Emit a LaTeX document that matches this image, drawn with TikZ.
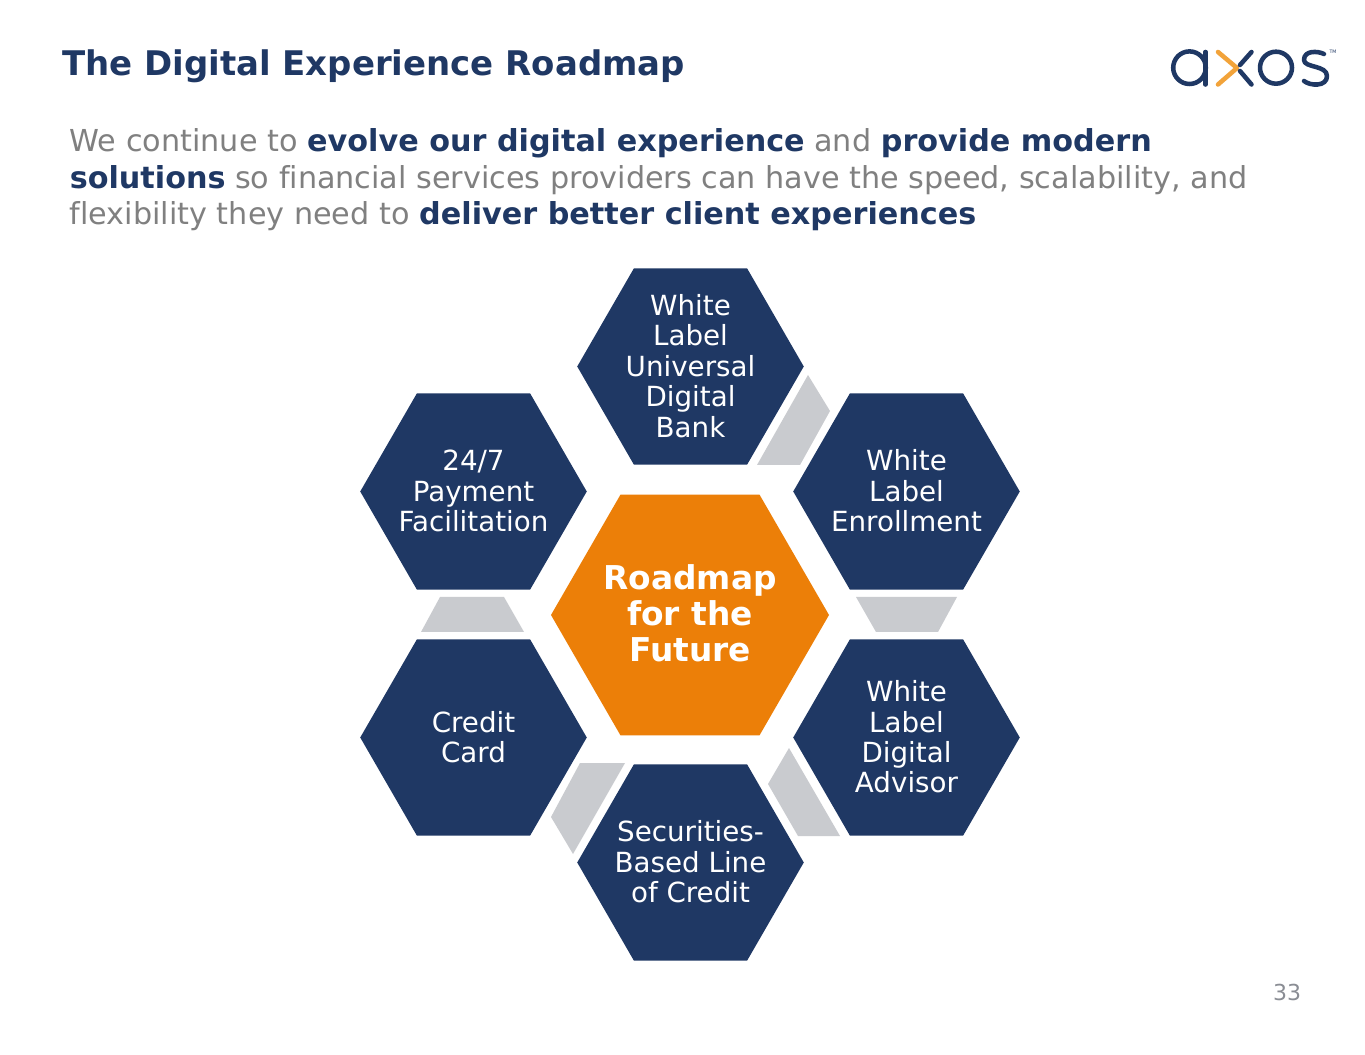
\documentclass[tikz,border=0pt]{standalone}
\usepackage{fontspec}
\setmainfont{DejaVu Sans}[Ligatures=NoCommon]
\usetikzlibrary{shapes.geometric}
\definecolor{navy}{HTML}{1F3864}
\definecolor{bodygrey}{HTML}{808080}
\definecolor{link}{HTML}{C9CBCF}
\definecolor{amber}{HTML}{EC7F08}
\definecolor{logoorange}{HTML}{F2A33A}
\definecolor{pagegrey}{HTML}{8A8D94}
\newcommand{\hl}[1]{\textbf{\textcolor{navy}{#1}}}
\tikzset{
  hexbase/.style={regular polygon,regular polygon sides=6,inner sep=0pt,outer sep=0pt,draw=none},
  hexnavy/.style={hexbase,fill=navy,minimum size=169.9pt},
  hexamber/.style={hexbase,fill=amber,minimum size=208.5pt},
  hextext/.style={text=white,align=center,yshift=0.4pt,font=\fontsize{20.8pt}{22.8pt}\selectfont},
  hexbold/.style={text=white,align=center,yshift=1pt,font=\fontsize{24.6pt}{27pt}\selectfont\bfseries},
  linkshape/.style={fill=link},
  logostroke/.style={line width=3.4pt,line cap=round,line join=round,color=navy}
}
\begin{document}
\begin{tikzpicture}[x=0.75pt,y=-0.75pt]
\useasboundingbox (0,0) rectangle (1365,1055);
\fill[white] (0,0) rectangle (1365,1055);
\node[anchor=base west,inner sep=0pt,text=navy,font=\fontsize{25.46pt}{30pt}\selectfont\bfseries] (title) at (62,76) {The Digital Experience Roadmap};
\node[anchor=west,inner sep=0pt,text=bodygrey,align=left,font=\fontsize{22.68pt}{27.4pt}\selectfont] (intro) at (69.5,180) {We continue to \hl{evolve our digital experience} and \hl{provide modern}\\\hl{solutions} so financial services providers can have the speed, scalability, and\\flexibility they need to \hl{deliver better client experiences}};
% links
\fill[linkshape] (808,375) -- (830,411) -- (800,465) -- (757,465) -- cycle;
\fill[linkshape] (856,597) -- (957,597) -- (938,632) -- (876,632) -- cycle;
\fill[linkshape] (440,597) -- (504,597) -- (524,632) -- (421,632) -- cycle;
\fill[linkshape] (580,763) -- (625,763) -- (573,854) -- (551,817) -- cycle;
\fill[linkshape] (789,748) -- (840,836) -- (798,836) -- (768,784) -- cycle;
% hexagons
\node[hexamber,label={[hexbold]center:Roadmap\\for the\\Future}] (centre) at (690,615) {};
\node[hexnavy,label={[hextext]center:White\\Label\\Universal\\Digital\\Bank}] (bank) at (690.5,366.5) {};
\node[hexnavy,label={[hextext]center:White\\Label\\Enrollment}] (enrol) at (906.5,491.5) {};
\node[hexnavy,label={[hextext]center:White\\Label\\Digital\\Advisor}] (advisor) at (906.5,737.5) {};
\node[hexnavy,label={[hextext]center:Securities-\\Based Line\\of Credit}] (sbloc) at (690.5,862.5) {};
\node[hexnavy,label={[hextext]center:Credit\\Card}] (card) at (473.5,737.5) {};
\node[hexnavy,label={[hextext]center:24/7\\Payment\\Facilitation}] (pay) at (473.5,491.5) {};
% logo
\draw[logostroke] (1189.5,67.7) circle (16.3);
\draw[logostroke] (1205.5,52) -- (1205.5,84.5);
\draw[logostroke,color=logoorange] (1218,52) -- (1237,68) -- (1218,84.5);
\draw[logostroke] (1251.5,52) -- (1240,65);
\draw[logostroke] (1240,71) -- (1251.5,84.5);
\draw[logostroke] (1276,67.7) circle (16);
\draw[logostroke] (1324,54) .. controls (1318,51) and (1304,50) .. (1304,60) .. controls (1304,68) and (1327,65) .. (1327,76) .. controls (1327,87) and (1310,86) .. (1304,81);
\node[inner sep=0pt,text=navy,font=\fontsize{3.5pt}{4pt}\selectfont] (tm) at (1333,52) {TM};
\node[inner sep=0pt,text=pagegrey,font=\fontsize{16.5pt}{20pt}\selectfont] (page) at (1287,992) {33};
\end{tikzpicture}
\end{document}
